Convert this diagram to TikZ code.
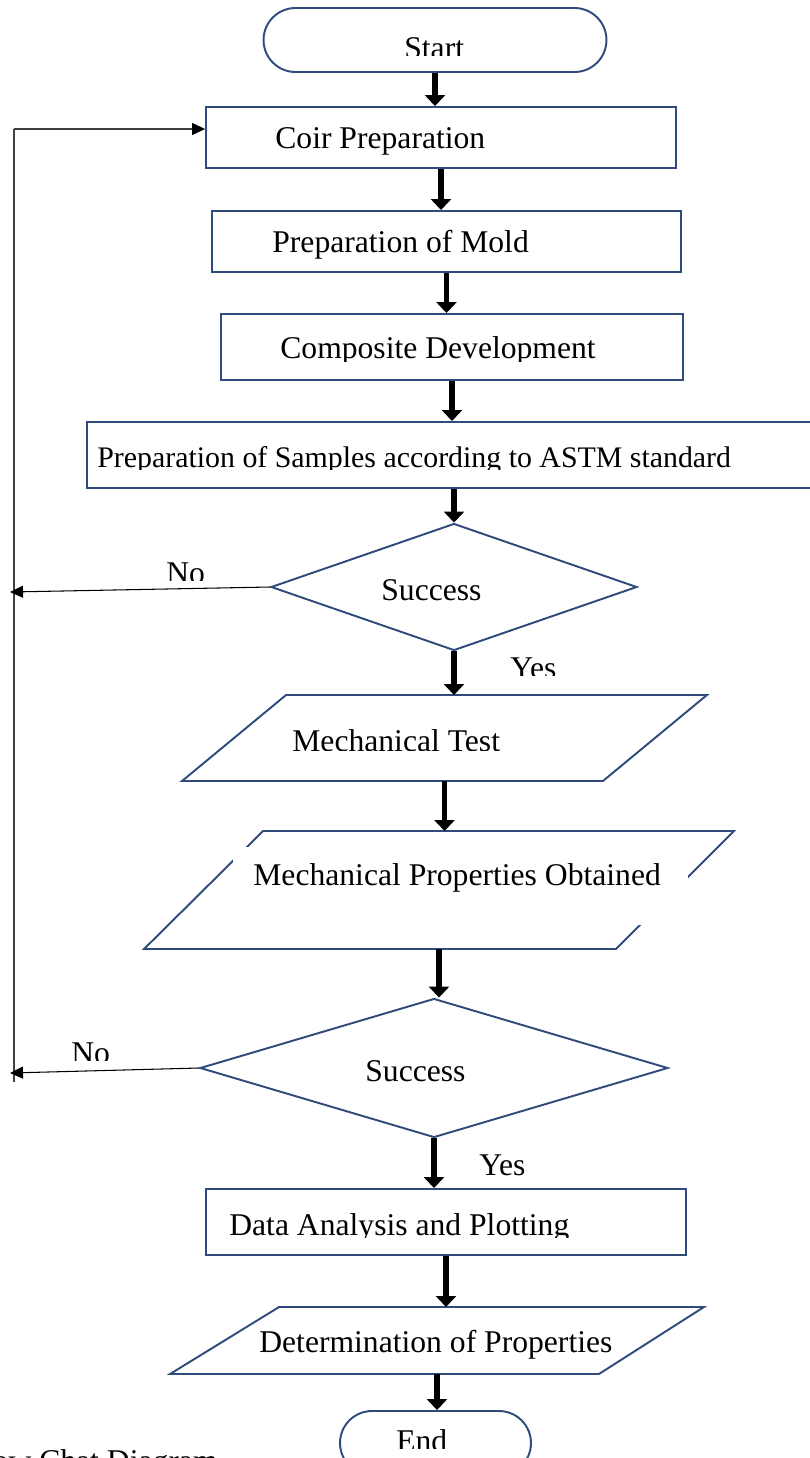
\documentclass[tikz,border=0pt]{standalone}
\usepackage{fontspec}
\setmainfont{Liberation Serif}
\usetikzlibrary{arrows.meta,calc,shapes.geometric}
\definecolor{boxblue}{HTML}{2F4B7C}
\definecolor{loopgray}{HTML}{404040}
\tikzset{>=Stealth,
	proc/.style={% process boxes
		draw=boxblue, line width=1.1pt,
		rectangle,
		inner sep=0pt
	},
	term/.style={
		draw=boxblue, line width=1.1pt,
		rectangle, rounded corners=0.64cm,
		minimum height=1.28cm,
		inner sep=0pt
	},
	decision/.style={
		draw=boxblue, line width=1.1pt,
		diamond,
		inner sep=0pt
	},
	iobox/.style={% invisible frame, the slanted outline is drawn as a path
		rectangle, inner sep=0pt, outer sep=0pt
	},
	ioline/.style={draw=boxblue, line width=1.1pt, line join=miter},
	txt/.style={anchor=base west, inner sep=0pt, font=\fontsize{18}{21}\selectfont},
	flow/.style={line width=3.4pt, -{Triangle[length=0.22cm,width=0.4cm]}},
	back/.style={draw=loopgray, line width=0.75pt},
	backarrow/.style={line width=0.6pt, -{Triangle[length=0.26cm,width=0.24cm,color=black]}}
}
\begin{document}
\begin{tikzpicture}[x=0.02cm, y=-0.02cm]
	\useasboundingbox (0,0) rectangle (809,1458);
	% shapes
	\node [term, minimum width=6.86cm] (start) at (435,40) {};
	\node [proc, minimum width=9.4cm, minimum height=1.22cm] (coir) at (441,137.5) {};
	\node [proc, minimum width=9.38cm, minimum height=1.22cm] (mold) at (446.5,241.5) {};
	\node [proc, minimum width=9.24cm, minimum height=1.32cm] (comp) at (452,347) {};
	\node [proc, minimum width=14.86cm, minimum height=1.32cm] (samp) at (458.5,455) {};
	\node [decision, minimum width=7.32cm, minimum height=2.54cm] (dec1) at (454,587) {};
	\node [iobox, minimum width=10.5cm, minimum height=1.72cm] (mtest) at (444.5,738) {};
	\draw [ioline] ($(mtest.north west)+(104,0)$) -- (mtest.north east)
		-- ($(mtest.south east)+(-104,0)$) -- (mtest.south west) -- cycle;
	\node [iobox, minimum width=11.8cm, minimum height=2.36cm] (mprop) at (439,890) {};
	\draw [ioline] ($(mprop.north west)+(119,0)$) -- (mprop.north east)
		-- ($(mprop.south east)+(-118,0)$) -- (mprop.south west) -- cycle;
	\node [fill=white, inner sep=0pt, minimum width=9.1cm, minimum height=1.56cm] (mpropmask) at (460.5,886) {};
	\node [decision, minimum width=9.36cm, minimum height=2.78cm] (dec2) at (434,1068) {};
	\node [proc, minimum width=9.6cm, minimum height=1.32cm] (data) at (446,1222) {};
	\node [iobox, minimum width=10.68cm, minimum height=1.34cm] (det) at (437,1340.5) {};
	\draw [ioline] ($(det.north west)+(109,0)$) -- (det.north east)
		-- ($(det.south east)+(-105,0)$) -- (det.south west) -- cycle;
	\node [term, minimum width=3.82cm] (end) at (435.5,1443) {};
	% texts (some of them cut at the bottom as in the original)
	\begin{scope}
		\clip (0,0) rectangle (809,55);
		\node [txt] (start-t) at (404,58) {Start};
	\end{scope}
	\node [txt] (coir-t) at (275,148) {Coir Preparation};
	\node [txt] (mold-t) at (272,252) {Preparation of Mold};
	\begin{scope}
		\clip (0,300) rectangle (809,361);
		\node [txt] (comp-t) at (280,358) {Composite Development};
	\end{scope}
	\begin{scope}
		\clip (0,430) rectangle (809,469);
		\node [txt, font=\fontsize{17}{20}\selectfont] (samp-t) at (97,467) {Preparation of Samples according to ASTM standard};
	\end{scope}
	\node [txt] (dec1-t) at (381,600) {Success};
	\begin{scope}
		\clip (0,540) rectangle (809,580);
		\node [txt] (no1-t) at (166,583) {No};
	\end{scope}
	\begin{scope}
		\clip (0,640) rectangle (809,675);
		\node [txt] (yes1-t) at (510,678) {Yes};
	\end{scope}
	\begin{scope}
		\clip (0,710) rectangle (809,750);
		\node [txt] (mtest-t) at (292,751) {Mechanical Test};
	\end{scope}
	\node [txt] (mprop-t) at (253,885) {Mechanical Properties Obtained};
	\node [txt] (dec2-t) at (365,1081) {Success};
	\begin{scope}
		\clip (0,1020) rectangle (809,1060);
		\node [txt] (no2-t) at (71,1063) {No};
	\end{scope}
	\node [txt] (yes2-t) at (479,1175) {Yes};
	\begin{scope}
		\clip (0,1195) rectangle (809,1237);
		\node [txt] (data-t) at (229,1235) {Data Analysis and Plotting};
	\end{scope}
	\node [txt] (det-t) at (259,1352) {Determination of Properties};
	\begin{scope}
		\clip (0,1415) rectangle (809,1448);
		\node [txt] (end-t) at (396,1451) {End};
	\end{scope}
	\node [txt] (caption) at (-34,1471) {Flow Chat Diagram};
	% main flow
	\draw [flow] (start.south) -- (start.south |- coir.north);
	\draw [flow] (coir.south) -- (coir.south |- mold.north);
	\draw [flow] (mold.south) -- (mold.south |- comp.north);
	\draw [flow] (comp.south) -- (comp.south |- samp.north);
	\draw [flow] (dec1.north |- samp.south) -- (dec1.north);
	\draw [flow] (dec1.south) -- (dec1.south |- mtest.north);
	\draw [flow] (mtest.south) -- (mtest.south |- mprop.north);
	\draw [flow] (mprop.south) -- (mprop.south |- dec2.north);
	\draw [flow] (dec2.south) -- (dec2.south |- data.north);
	\draw [flow] (data.south) -- (data.south |- det.north);
	\draw [flow] (det.south) -- (det.south |- end.north);
	% loop back
	\coordinate (fbtop) at (14,129);
	\coordinate (fbbot) at (14,1082);
	\coordinate (no1end) at (10,592);
	\coordinate (no2end) at (10,1073);
	\draw [back] (fbbot) -- (fbtop);
	\draw [back, backarrow] (fbtop) -- (fbtop -| coir.west);
	\draw [backarrow] (dec1.west) -- (no1end);
	\draw [backarrow] (dec2.west) -- (no2end);
\end{tikzpicture}
\end{document}
